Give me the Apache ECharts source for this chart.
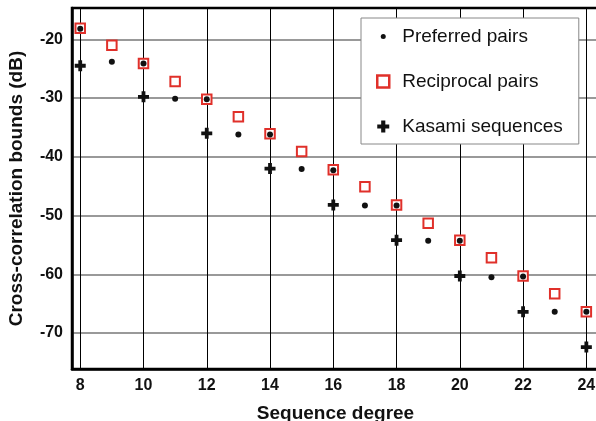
<!DOCTYPE html>
<html>
<head>
<meta charset="utf-8">
<script src="https://cdn.jsdelivr.net/npm/echarts@6/dist/echarts.min.js"></script>
<style>
  html, body { margin: 0; padding: 0; background: #fff; }
  #chart { width: 596px; height: 421px; }
</style>
</head>
<body>
<div id="chart"></div>
<script>
const degrees = [8, 9, 10, 11, 12, 13, 14, 15, 16, 17, 18, 19, 20, 21, 22, 23, 24]
const preferred = [-18.2, -23.8, -24.1, -30.1, -30.2, -36.2, -36.2, -42.1, -42.3, -48.3, -48.3, -54.3, -54.3, -60.5, -60.4, -66.4, -66.4]
const reciprocal = [-18.1, -21.0, -24.1, -27.2, -30.2, -33.2, -36.1, -39.1, -42.2, -45.1, -48.2, -51.3, -54.2, -57.2, -60.3, -63.3, -66.4]
const kasamiDegrees = [8, 10, 12, 14, 16, 18, 20, 22, 24]
const kasami = [-24.5, -29.8, -36.0, -42.0, -48.2, -54.2, -60.3, -66.4, -72.4]
const xTicks = [8, 10, 12, 14, 16, 18, 20, 22, 24]
const yTicks = [-20, -30, -40, -50, -60, -70]

const font = "'Liberation Sans', Arial, sans-serif"
const plus = "path://M3.6,0H7.4V3.6H11V7.4H7.4V11H3.6V7.4H0V3.6H3.6Z"
const smallDot = "path://M0,0M12,12M3.5,6A2.5,2.5,0,1,1,8.5,6A2.5,2.5,0,1,1,3.5,6Z"

const chart = echarts.init(document.getElementById("chart"), null, { renderer: "canvas" })

// grid lines drawn as mark lines so they sit on the round tick values
const gridLines = [
  ...yTicks.map(v => ({ yAxis: v, lineStyle: { color: "#777", width: 1.5, type: "solid" } })),
  ...xTicks.map(v => ({ xAxis: v, lineStyle: { color: "#000", width: 1, type: "solid" } }))
]

chart.setOption({
  animation: false,
  backgroundColor: "#fff",
  grid: {
    left: 72, top: 8, right: -3, bottom: 52,
    outerBoundsMode: "none",
    containLabel: false,
    show: true, borderColor: "#000", borderWidth: 2.5, backgroundColor: "transparent"
  },
  xAxis: {
    type: "value",
    min: 7.74, max: 24.4,
    z: 3,
    name: "Sequence degree",
    nameLocation: "middle",
    nameGap: 35,
    nameTextStyle: { fontFamily: font, fontWeight: "bold", fontSize: 19, color: "#111" },
    axisLine: { show: true, onZero: false, lineStyle: { color: "#000", width: 2.5 } },
    axisTick: { show: false },
    splitLine: { show: false },
    axisLabel: {
      customValues: xTicks,
      margin: 9,
      fontFamily: font, fontWeight: "bold", fontSize: 16, color: "#111"
    }
  },
  yAxis: {
    type: "value",
    min: -76.13, max: -14.67,
    z: 3,
    name: "Cross-correlation bounds (dB)",
    nameLocation: "middle",
    nameGap: 46,
    nameTextStyle: { fontFamily: font, fontWeight: "bold", fontSize: 19, color: "#111" },
    axisLine: { show: true, onZero: false, lineStyle: { color: "#000", width: 2.5 } },
    axisTick: { show: false },
    splitLine: { show: false },
    axisLabel: {
      customValues: yTicks,
      margin: 9,
      fontFamily: font, fontWeight: "bold", fontSize: 16, color: "#111"
    }
  },
  legend: {
    left: 361, top: 18,
    orient: "vertical",
    padding: [9, 16, 8, 15],
    itemGap: 26,
    itemWidth: 12, itemHeight: 12,
    backgroundColor: "#fff",
    borderColor: "#888",
    borderWidth: 1,
    textStyle: { fontFamily: font, fontSize: 19, color: "#111", padding: [0, 0, 0, 8] },
    data: [
      { name: "Preferred pairs", icon: smallDot },
      { name: "Reciprocal pairs", icon: "rect", itemStyle: { color: "#fff", borderColor: "#e0302a", borderWidth: 2.5 } },
      { name: "Kasami sequences", icon: plus }
    ]
  },
  series: [
    {
      name: "Reciprocal pairs",
      type: "scatter",
      z: 2,
      symbol: "rect",
      symbolSize: 9.5,
      itemStyle: { color: "#fff", borderColor: "#e0302a", borderWidth: 2, opacity: 1 },
      data: degrees.map((d, i) => [d, reciprocal[i]]),
      markLine: {
        silent: true, z: 1, symbol: "none",
        label: { show: false },
        emphasis: { disabled: true },
        data: gridLines
      }
    },
    {
      name: "Preferred pairs",
      type: "scatter",
      z: 4,
      symbol: "circle",
      symbolSize: 6,
      itemStyle: { color: "#111", opacity: 1 },
      data: degrees.map((d, i) => [d, preferred[i]])
    },
    {
      name: "Kasami sequences",
      type: "scatter",
      z: 4,
      symbol: plus,
      symbolSize: 11,
      itemStyle: { color: "#111", opacity: 1 },
      data: kasamiDegrees.map((d, i) => [d, kasami[i]])
    }
  ]
})
</script>
</body>
</html>
